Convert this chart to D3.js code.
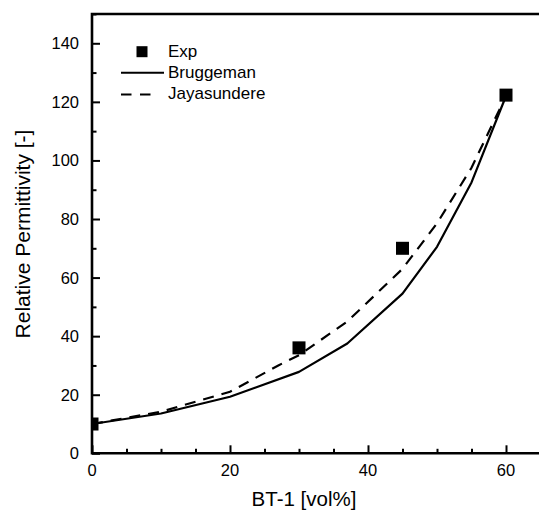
<!DOCTYPE html>
<html>
<head>
<meta charset="utf-8">
<script src="https://cdn.jsdelivr.net/npm/d3@7"></script>
<style>
  html, body { margin: 0; padding: 0; background: #fff; }
  svg { display: block; font-family: "Liberation Sans", Arial, sans-serif; }
</style>
</head>
<body>
<div id="chart"></div>
<script>
// Data
const expX = [0, 30, 45, 60];
const expY = [10, 36, 70, 122.3];

const bruggemanX = [0, 10, 20, 30, 37, 45, 50, 55, 60];
const bruggemanY = [10, 13.6, 19.3, 27.8, 37.5, 54.5, 70.5, 92.5, 122];

const jayaX = [0, 10, 20, 27, 30, 37, 45, 50, 55, 60];
const jayaY = [10, 14.2, 21, 30, 33.5, 45, 63, 78.5, 97.5, 122];

const xTicks = [0, 20, 40, 60];
const yTicks = [0, 20, 40, 60, 80, 100, 120, 140];

// Dimensions
const dims = { width: 539, height: 510, left: 92, top: 14, right: 540.5, bottom: 453.3 };

const svg = d3.select("#chart").append("svg")
  .attr("width", dims.width)
  .attr("height", dims.height);

// Scales
const xScale = d3.scaleLinear().domain([0, 65]).range([dims.left, dims.right]);
const yScale = d3.scaleLinear().domain([0, 150]).range([dims.bottom, dims.top]);

svg.append("clipPath").attr("id", "plot-clip")
  .append("rect")
  .attr("x", dims.left).attr("y", dims.top)
  .attr("width", dims.right - dims.left).attr("height", dims.bottom - dims.top);

const plot = svg.append("g").attr("clip-path", "url(#plot-clip)");

// Lines
const line = d3.line().x(d => xScale(d[0])).y(d => yScale(d[1]));

plot.append("path")
  .datum(d3.zip(bruggemanX, bruggemanY))
  .attr("d", line)
  .attr("fill", "none")
  .attr("stroke", "#000")
  .attr("stroke-width", 2.2)
  .attr("stroke-linejoin", "round");

plot.append("path")
  .datum(d3.zip(jayaX, jayaY))
  .attr("d", line)
  .attr("fill", "none")
  .attr("stroke", "#000")
  .attr("stroke-width", 2.2)
  .attr("stroke-dasharray", "11,8");

// Exp squares
const sq = 13;
plot.selectAll("rect.exp")
  .data(d3.zip(expX, expY))
  .join("rect")
  .attr("class", "exp")
  .attr("x", d => xScale(d[0]) - sq / 2)
  .attr("y", d => yScale(d[1]) - sq / 2)
  .attr("width", sq)
  .attr("height", sq)
  .attr("fill", "#000");

// Axes (ticks inside)
const xAxis = d3.axisTop(xScale)
  .tickValues(d3.range(0, 66, 5))
  .tickSizeInner(0).tickSizeOuter(0).tickFormat("");
const xg = svg.append("g").attr("transform", `translate(0,${dims.bottom})`).call(xAxis);
xg.selectAll(".tick line")
  .attr("y2", d => (d % 20 === 0 ? -8 : -4.5))
  .attr("stroke-width", 2);
xg.select(".domain").remove();

const yAxis = d3.axisRight(yScale)
  .tickValues(d3.range(0, 151, 10))
  .tickSizeInner(0).tickSizeOuter(0).tickFormat("");
const yg = svg.append("g").attr("transform", `translate(${dims.left},0)`).call(yAxis);
yg.selectAll(".tick line")
  .attr("x2", d => (d % 20 === 0 ? 8 : 4.5))
  .attr("stroke-width", 2);
yg.select(".domain").remove();

// Frame
svg.append("path")
  .attr("d", `M${dims.right},${dims.top}H${dims.left}V${dims.bottom}H${dims.right}`)
  .attr("fill", "none")
  .attr("stroke", "#000")
  .attr("stroke-width", 2.6);

// Tick labels
svg.selectAll("text.xlab")
  .data(xTicks)
  .join("text")
  .attr("class", "xlab")
  .attr("x", d => xScale(d))
  .attr("y", 475.5)
  .attr("text-anchor", "middle")
  .attr("font-size", 16.5)
  .text(d => d);

svg.selectAll("text.ylab")
  .data(yTicks)
  .join("text")
  .attr("class", "ylab")
  .attr("x", 79)
  .attr("y", d => yScale(d) + 6)
  .attr("text-anchor", "end")
  .attr("font-size", 16.5)
  .text(d => d);

// Axis titles
svg.append("text")
  .attr("x", 304)
  .attr("y", 506)
  .attr("text-anchor", "middle")
  .attr("font-size", 20.5)
  .text("BT-1 [vol%]");

svg.append("text")
  .attr("transform", "translate(30,234) rotate(-90)")
  .attr("text-anchor", "middle")
  .attr("font-size", 21)
  .text("Relative Permittivity [-]");

// Legend
const legend = svg.append("g").attr("font-size", 17);
legend.append("rect")
  .attr("x", 142 - 5.5).attr("y", 51.7 - 5.5)
  .attr("width", 11).attr("height", 11)
  .attr("fill", "#000");
legend.append("text").attr("x", 168).attr("y", 56.7).text("Exp");

legend.append("line")
  .attr("x1", 121).attr("x2", 164).attr("y1", 72.7).attr("y2", 72.7)
  .attr("stroke", "#000").attr("stroke-width", 2);
legend.append("text").attr("x", 168).attr("y", 77.5).text("Bruggeman");

legend.append("line")
  .attr("x1", 121).attr("x2", 152).attr("y1", 94.5).attr("y2", 94.5)
  .attr("stroke", "#000").attr("stroke-width", 2)
  .attr("stroke-dasharray", "10.5,8.5");
legend.append("text").attr("x", 168).attr("y", 98.5).text("Jayasundere");
</script>
</body>
</html>
